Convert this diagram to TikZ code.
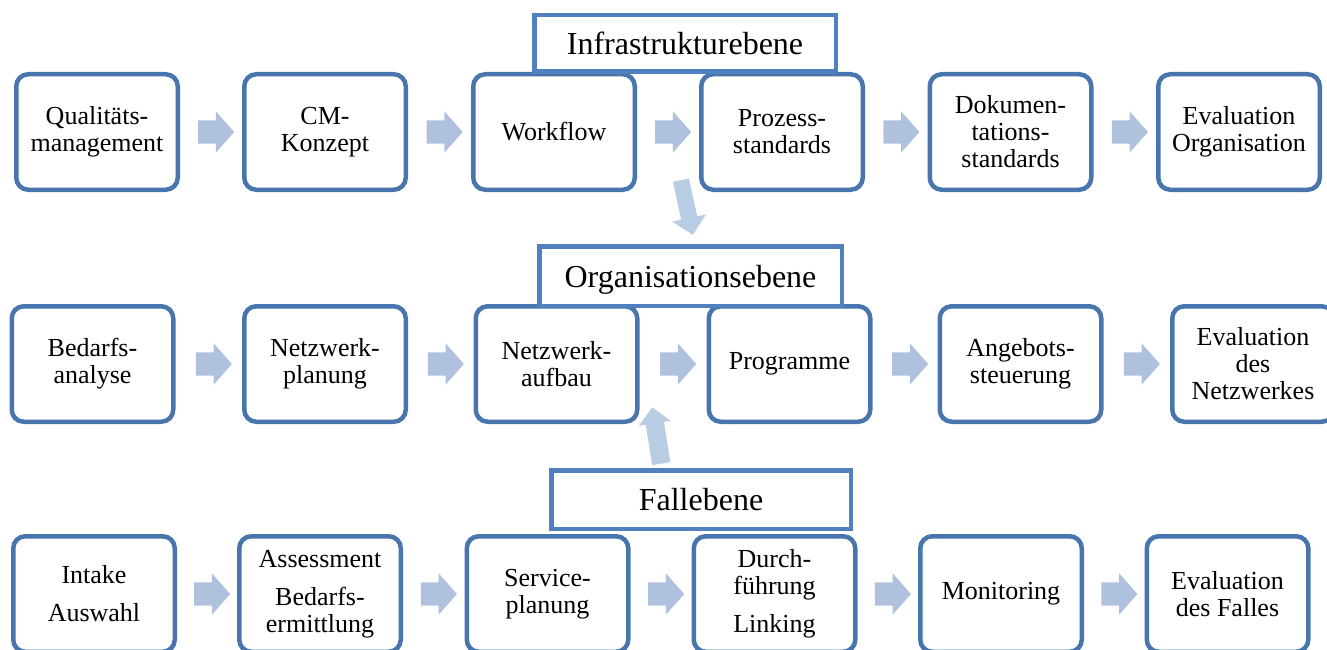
\documentclass[tikz,border=0pt]{standalone}
\usepackage{fontspec}
\setmainfont{Liberation Serif}
\usetikzlibrary{shapes.arrows}
\definecolor{boxblue}{RGB}{72,117,173}
\definecolor{headblue}{RGB}{80,128,189}
\definecolor{flowfill}{RGB}{176,193,221}
\definecolor{linkfill}{RGB}{184,204,228}
\begin{document}
\begin{tikzpicture}[x=1pt,y=-1pt,
  stepbox/.style={draw=boxblue, line width=4.5pt, rounded corners=12pt, fill=white,
    minimum width=161.5pt, minimum height=115.5pt, inner sep=0pt, align=center,
    font=\fontsize{26}{27}\selectfont},
  levelbox/.style={draw=headblue, line width=4.5pt, fill=white, inner sep=0pt,
    text height=22pt, text depth=0pt, font=\fontsize{32}{36}\selectfont},
  flowarrow/.style={single arrow, fill=flowfill, draw=none, inner xsep=0pt,
    inner ysep=11.5pt, minimum height=36pt, single arrow head extend=9pt,
    single arrow tip angle=97},
  linkarrow/.style={single arrow, fill=linkfill, draw=none, inner xsep=0pt,
    single arrow tip angle=90, sloped, allow upside down}
]
\useasboundingbox (0,0) rectangle (1327,650);
\clip (0,0) rectangle (1327,650);

% infrastructure level
\node[stepbox] (qm)   at (97,132)    {Qualitäts-\\management};
\node[stepbox] (cm)   at (325,132)   {CM-\\Konzept};
\node[stepbox] (wf)   at (554,132)   {Workflow};
\node[stepbox] (ps)   at (782,132)   {Prozess-\\standards};
\node[stepbox] (ds)   at (1010.5,132){Dokumen-\\tations-\\standards};
\node[stepbox] (eo)   at (1239,132)  {Evaluation\\Organisation};

% organisation level
\node[stepbox] (ba)   at (92.5,364)  {Bedarfs-\\analyse};
\node[stepbox] (np)   at (325,364)   {Netzwerk-\\planung};
\node[stepbox] (na)   at (556.5,364) {Netzwerk-\\aufbau};
\node[stepbox] (pg)   at (789.5,364) {Programme};
\node[stepbox] (as)   at (1020.5,364){Angebots-\\steuerung};
\node[stepbox] (en)   at (1253,364)  {Evaluation\\des\\Netzwerkes};

% case level
\node[stepbox] (ia)   at (94,594)    {Intake\\[11pt]Auswahl};
\node[stepbox] (ab)   at (320,594)   {Assessment\\[11pt]Bedarfs-\\ermittlung};
\node[stepbox] (sp)   at (547.5,594) {Service-\\planung};
\node[stepbox] (dl)   at (774.5,594) {Durch-\\führung\\[11pt]Linking};
\node[stepbox] (mo)   at (1001,594)  {Monitoring};
\node[stepbox] (ef)   at (1227.5,594){Evaluation\\des Falles};

% flow arrows within each level
\foreach \a/\b in {qm/cm, cm/wf, wf/ps, ps/ds, ds/eo,
                   ba/np, np/na, na/pg, pg/as, as/en,
                   ia/ab, ab/sp, sp/dl, dl/mo, mo/ef}
  \path (\a.east) -- (\b.west) node[midway, flowarrow] {};

% links between the levels
\coordinate (downtail) at (680,176);
\coordinate (downtip)  at (692,231);
\path (downtail) -- (downtip) node[midway, linkarrow, minimum height=56pt,
  inner ysep=8pt, single arrow head extend=9pt] {};
\coordinate (uptail) at (662,468);
\coordinate (uptip)  at (653,412);
\path (uptail) -- (uptip) node[midway, linkarrow, minimum height=57pt,
  inner ysep=9pt, single arrow head extend=7pt] {};

% level titles
\node[levelbox, minimum width=301.5pt, minimum height=56.5pt] (infra) at (685,43.5) {Infrastrukturebene};
\node[levelbox, minimum width=302.5pt, minimum height=59.5pt] (orga)  at (690.5,276) {Organisationsebene};
\node[levelbox, minimum width=299.5pt, minimum height=58.5pt] (fall)  at (701,499.5) {Fallebene};
\end{tikzpicture}
\end{document}
